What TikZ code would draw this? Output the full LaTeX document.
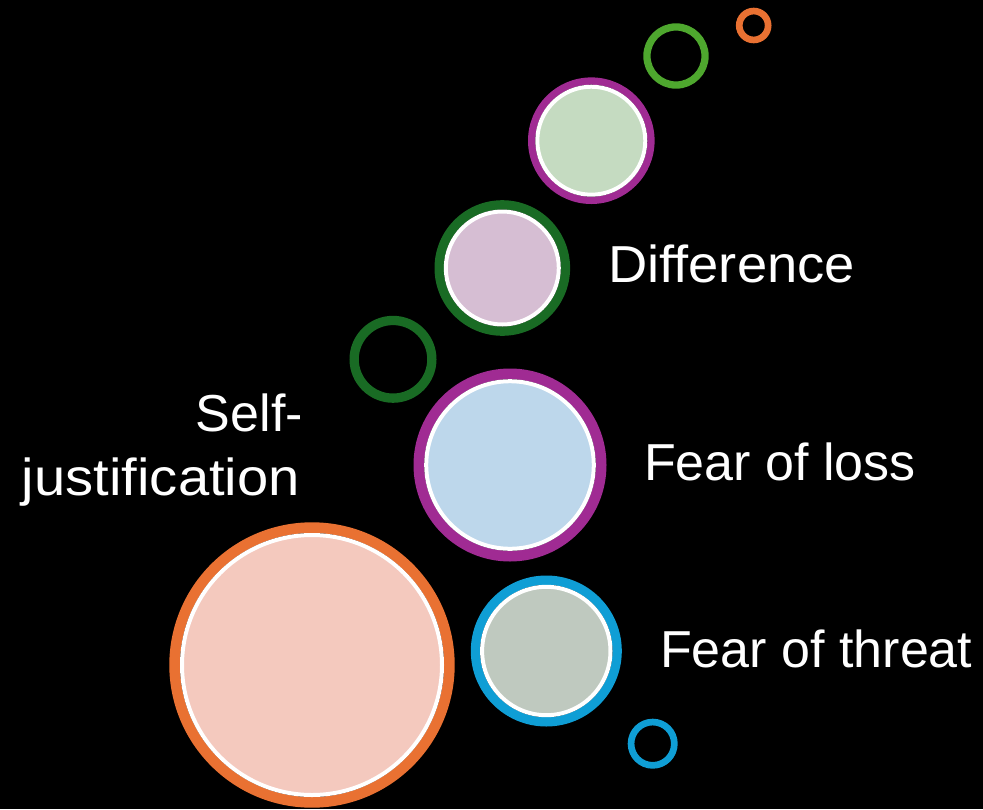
\documentclass[tikz,border=0pt]{standalone}
\usepackage{fontspec}
\setmainfont{Liberation Sans}[Ligatures=NoCommon]
\definecolor{cOrange}{HTML}{E97132}
\definecolor{cPurple}{HTML}{A02B93}
\definecolor{cBlue}{HTML}{0F9ED5}
\definecolor{cDkGreen}{HTML}{196B24}
\definecolor{cLtGreen}{HTML}{4EA72E}
\definecolor{fPink}{HTML}{F4C9BE}
\definecolor{fBlue}{HTML}{BDD7EB}
\definecolor{fGray}{HTML}{BFC9BF}
\definecolor{fMauve}{HTML}{D6BED3}
\definecolor{fMint}{HTML}{C5DBC1}
% name, x, y, outer radius, ring width, ring colour, fill colour
\newcommand{\mybubble}[7]{%
  \node[circle, inner sep=0pt, draw=#6, line width=#5pt,
        minimum size={2*(#4-#5/2)*1pt}] (#1) at (#2,#3) {};
  \node[circle, inner sep=0pt, fill=#7, draw=white, line width=4pt,
        minimum size={2*(#4-#5-2)*1pt}] (#1in) at (#2,#3) {};
}
% name, x, y, outer radius, ring width, ring colour
\newcommand{\myring}[6]{%
  \node[circle, inner sep=0pt, draw=#6, line width=#5pt,
        minimum size={2*(#4-#5/2)*1pt}] (#1) at (#2,#3) {};
}
\tikzset{lbl/.style={text=white, inner sep=0pt, font=\fontsize{52}{60}\selectfont}}
\begin{document}
\begin{tikzpicture}[x=1pt,y=-1pt]
\fill[black] (0,0) rectangle (983,809);
\useasboundingbox (0,0) rectangle (983,809);
\mybubble{self}{312}{665}{142.7}{10.7}{cOrange}{fPink}
\mybubble{loss}{510}{465}{96.5}{10.7}{cPurple}{fBlue}
\mybubble{threat}{546.3}{651}{75.5}{9.3}{cBlue}{fGray}
\mybubble{diff}{502.3}{268}{67.8}{9.3}{cDkGreen}{fMauve}
\mybubble{top}{591.3}{140.7}{63.3}{7.3}{cPurple}{fMint}
\myring{rblue}{652.7}{743.7}{25}{6.7}{cBlue}
\myring{rdkgreen}{393}{359.3}{43.5}{9.3}{cDkGreen}
\myring{rltgreen}{676}{56}{32.7}{7.3}{cLtGreen}
\myring{rorange}{753.7}{25.5}{17.8}{6.7}{cOrange}
\node[lbl, anchor=base west] (tdiff) at (608,282.3) {\scalebox{1.045}[1]{Difference}};
\node[lbl, anchor=base west] (tloss) at (644,480.7) {Fear of loss};
\node[lbl, anchor=base west] (tthreat) at (660,667.7) {Fear of threat};
\node[lbl, anchor=base east] (tself1) at (303,431.7) {Self-};
\node[lbl, anchor=base east] (tself2) at (300,495) {\scalebox{1.08}[1]{justification}};
\end{tikzpicture}
\end{document}
